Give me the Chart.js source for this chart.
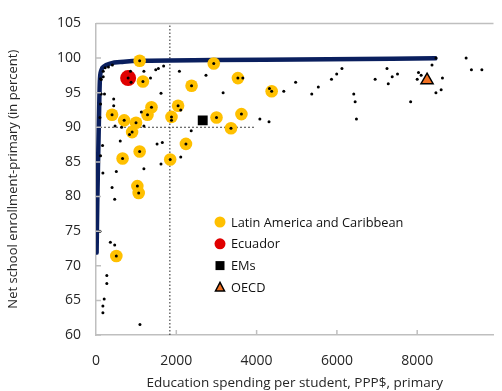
<!DOCTYPE html>
<html>
<head>
<meta charset="utf-8">
<script src="https://cdn.jsdelivr.net/npm/chart.js@4"></script>
<style>body{margin:0;background:#fff}</style>
</head>
<body>
<canvas id="chart" width="502" height="391"></canvas>
<script>
// Latin America and Caribbean
const lacX = [1087, 2933, 3534, 1169, 2380, 4375, 1382, 2044, 400, 1283, 1880, 3001, 3622, 702, 997, 899, 3362, 2240, 1087, 662, 1848, 1030, 1063, 506];
const lacY = [99.6, 99.2, 97.1, 96.6, 96.0, 95.2, 92.9, 93.1, 91.8, 91.8, 91.5, 91.4, 91.9, 91.0, 90.65, 89.3, 89.85, 87.6, 86.5, 85.5, 85.35, 81.5, 80.5, 71.4];

const ecuadorX = [800];
const ecuadorY = [97.1];
const emX = [2658];
const emY = [91.0];
const oecdX = [8245];
const oecdY = [96.8];

// all countries (small dots)
const allX = [408, 310, 228, 130, 180, 858, 874, 800, 1193, 1488, 1553, 1684, 1357, 2077, 2739, 3166, 1619, 130, 211, 441, 441, 113, 98, 1129, 2110, 474, 638, 1193, 1880, 2371, 834, 604, 1521, 1652, 163, 113, 1619, 2110, 1193, 506, 172, 400, 466, 98, 358, 466, 270, 270, 204, 172, 172, 1095,
  8466, 9218, 9350, 9610, 8368, 8628, 8032, 8098, 8000, 8596, 8466, 7836, 7247, 7509, 7377, 6952, 7279, 6126, 5995, 5865, 6420, 6454, 6486, 5537, 5374, 4972, 4677, 4319, 3657, 4081, 4309, 180, 113,
  1087, 2933, 3534, 1169, 2380, 4375, 1382, 2044, 400, 1283, 1880, 3001, 3622, 702, 997, 899, 3362, 2240, 1087, 662, 1848, 1030, 1063, 506];
const allY = [99.0, 98.7, 98.6, 96.9, 97.3, 98.1, 96.5, 97.1, 98.1, 98.3, 98.5, 98.85, 97.1, 98.1, 97.5, 95.0, 94.9, 94.8, 94.8, 94.1, 93.1, 93.35, 91.4, 92.2, 92.5, 90.2, 90.0, 90.2, 91.0, 89.5, 88.95, 88.0, 87.6, 87.8, 87.35, 85.9, 84.7, 85.7, 84.0, 83.6, 83.4, 81.3, 79.6, 75.0, 73.4, 73.0, 68.6, 67.45, 65.2, 64.2, 63.2, 61.5,
  100, 100, 98.3, 98.3, 99.0, 97.1, 97.9, 97.5, 96.95, 95.4, 95.0, 93.7, 98.5, 97.7, 97.3, 96.95, 96.3, 98.5, 97.7, 96.95, 94.8, 93.7, 91.2, 95.8, 94.8, 96.5, 95.2, 95.6, 97.1, 91.2, 90.8, 98.1, 97.0,
  99.6, 99.2, 97.1, 96.6, 96.0, 95.2, 92.9, 93.1, 91.8, 91.8, 91.5, 91.4, 91.9, 91.0, 90.65, 89.3, 89.85, 87.6, 86.5, 85.5, 85.35, 81.5, 80.5, 71.4];

// fitted frontier
const curveX = [15, 32, 56, 81, 95, 130, 200, 350, 695, 1090, 2930, 4990, 8450];
const curveY = [71.9, 79.1, 86.2, 93.4, 96.6, 98.2, 98.8, 99.2, 99.45, 99.6, 99.7, 99.8, 99.95];

// dotted reference lines
const vLineX = [1840, 1840];
const vLineY = [60, 105];
const hLineX = [0, 3950];
const hLineY = [90, 90];

const xTicks = [0, 2000, 4000, 6000, 8000];
const yTicks = [60, 65, 70, 75, 80, 85, 90, 95, 100, 105];

const legendItems = ['Latin America and Caribbean', 'Ecuador', 'EMs', 'OECD'];

const pts = (xs, ys) => xs.map((x, i) => ({x: x, y: ys[i]}));
const FONT = "'Open Sans', sans-serif";

const ctx = document.getElementById('chart').getContext('2d');

const insideTicks = {
    id: 'insideTicks',
    afterDraw(chart) {
        const c = chart.ctx;
        const a = chart.chartArea;
        const xs = chart.scales.x, ys = chart.scales.y;
        c.save();
        c.strokeStyle = '#bfbfbf';
        c.lineWidth = 1.5;
        c.beginPath();
        c.moveTo(a.left, a.top);
        c.lineTo(a.right, a.top);
        xs.ticks.forEach(t => {
            const px = xs.getPixelForValue(t.value);
            if (px <= a.left + 1) return;
            c.moveTo(px, a.bottom);
            c.lineTo(px, a.bottom - 5);
        });
        ys.ticks.forEach(t => {
            const py = ys.getPixelForValue(t.value);
            c.moveTo(a.left, py);
            c.lineTo(a.left + 5, py);
        });
        c.stroke();
        c.restore();
    }
};

const legendBox = {
    id: 'legendBox',
    afterDraw(chart) {
        const c = chart.ctx;
        const x0 = 220, y0 = 222, gap = 21.8;
        c.save();
        c.font = '12.8px ' + FONT;
        c.textBaseline = 'middle';
        legendItems.forEach((name, i) => {
            const ds = chart.data.datasets.find(d => d.label === name);
            const y = y0 + i * gap;
            c.fillStyle = ds.backgroundColor;
            c.strokeStyle = ds.borderColor;
            c.lineWidth = 1.5;
            c.beginPath();
            if (ds.pointStyle === 'rect') {
                c.rect(x0 - 4.5, y - 4.5, 9, 9);
                c.fill();
            } else if (ds.pointStyle === 'triangle') {
                c.moveTo(x0, y - 5);
                c.lineTo(x0 + 4.5, y + 3.5);
                c.lineTo(x0 - 4.5, y + 3.5);
                c.closePath();
                c.fill();
                c.stroke();
            } else {
                c.arc(x0, y, 5.5, 0, Math.PI * 2);
                c.fill();
            }
            c.fillStyle = '#111';
            c.fillText(name, x0 + 11, y + 1);
        });
        c.restore();
    }
};

new Chart(ctx, {
    type: 'scatter',
    data: {
        datasets: [
            {
                label: 'All',
                data: pts(allX, allY),
                backgroundColor: '#000',
                borderColor: '#000',
                pointRadius: 1.5,
                borderWidth: 0
            },
            {
                label: 'Ecuador',
                data: pts(ecuadorX, ecuadorY),
                backgroundColor: '#e00000',
                borderColor: '#e00000',
                pointRadius: 8,
                borderWidth: 0
            },
            {
                label: 'EMs',
                data: pts(emX, emY),
                pointStyle: 'rect',
                backgroundColor: '#000',
                borderColor: '#000',
                pointRadius: 7,
                borderWidth: 0
            },
            {
                label: 'OECD',
                data: pts(oecdX, oecdY),
                pointStyle: 'triangle',
                backgroundColor: '#f07022',
                borderColor: '#000',
                pointRadius: 7,
                borderWidth: 1.5
            },
            {
                label: 'Latin America and Caribbean',
                data: pts(lacX, lacY),
                backgroundColor: '#ffc000',
                borderColor: '#ffc000',
                pointRadius: 6.3,
                borderWidth: 0
            },
            {
                label: 'Frontier',
                data: pts(curveX, curveY),
                showLine: true,
                borderColor: '#0a1f5e',
                borderWidth: 4.5,
                pointRadius: 0,
                cubicInterpolationMode: 'monotone',
                borderCapStyle: 'round'
            },
            {
                label: 'vline',
                data: pts(vLineX, vLineY),
                showLine: true,
                borderColor: '#222',
                borderWidth: 1,
                borderDash: [1.5, 2],
                pointRadius: 0
            },
            {
                label: 'hline',
                data: pts(hLineX, hLineY),
                showLine: true,
                borderColor: '#444',
                borderWidth: 1,
                borderDash: [2, 2],
                pointRadius: 0
            }
        ]
    },
    options: {
        responsive: false,
        animation: false,
        layout: {padding: {top: 18, right: 2, left: 0, bottom: 0}},
        plugins: {
            legend: {display: false},
            tooltip: {enabled: false}
        },
        scales: {
            x: {
                type: 'linear',
                min: 0,
                max: 9900,
                afterFit(scale) { scale.height = 56; },
                afterBuildTicks(scale) { scale.ticks = xTicks.map(v => ({value: v})); },
                ticks: {
                    padding: 18,
                    color: '#262626',
                    font: {family: FONT, size: 14},
                    maxRotation: 0,
                    callback: v => String(v)
                },
                grid: {display: false, drawTicks: false},
                border: {display: true, color: '#bfbfbf', width: 1.5},
                title: {
                    display: true,
                    text: 'Education spending per student, PPP$, primary',
                    color: '#262626',
                    font: {family: FONT, size: 13.5},
                    padding: {top: 0, bottom: 0}
                }
            },
            y: {
                min: 60,
                max: 105,
                afterFit(scale) { scale.width = 96; },
                afterBuildTicks(scale) { scale.ticks = yTicks.map(v => ({value: v})); },
                ticks: {
                    padding: 15,
                    color: '#262626',
                    font: {family: FONT, size: 14}
                },
                grid: {display: false, drawTicks: false},
                border: {display: true, color: '#bfbfbf', width: 1.5},
                title: {
                    display: true,
                    text: 'Net school enrollment-primary (in percent)',
                    color: '#262626',
                    font: {family: FONT, size: 13},
                    padding: {top: 5, bottom: 0}
                }
            }
        }
    },
    plugins: [insideTicks, legendBox]
});
</script>
</body>
</html>
